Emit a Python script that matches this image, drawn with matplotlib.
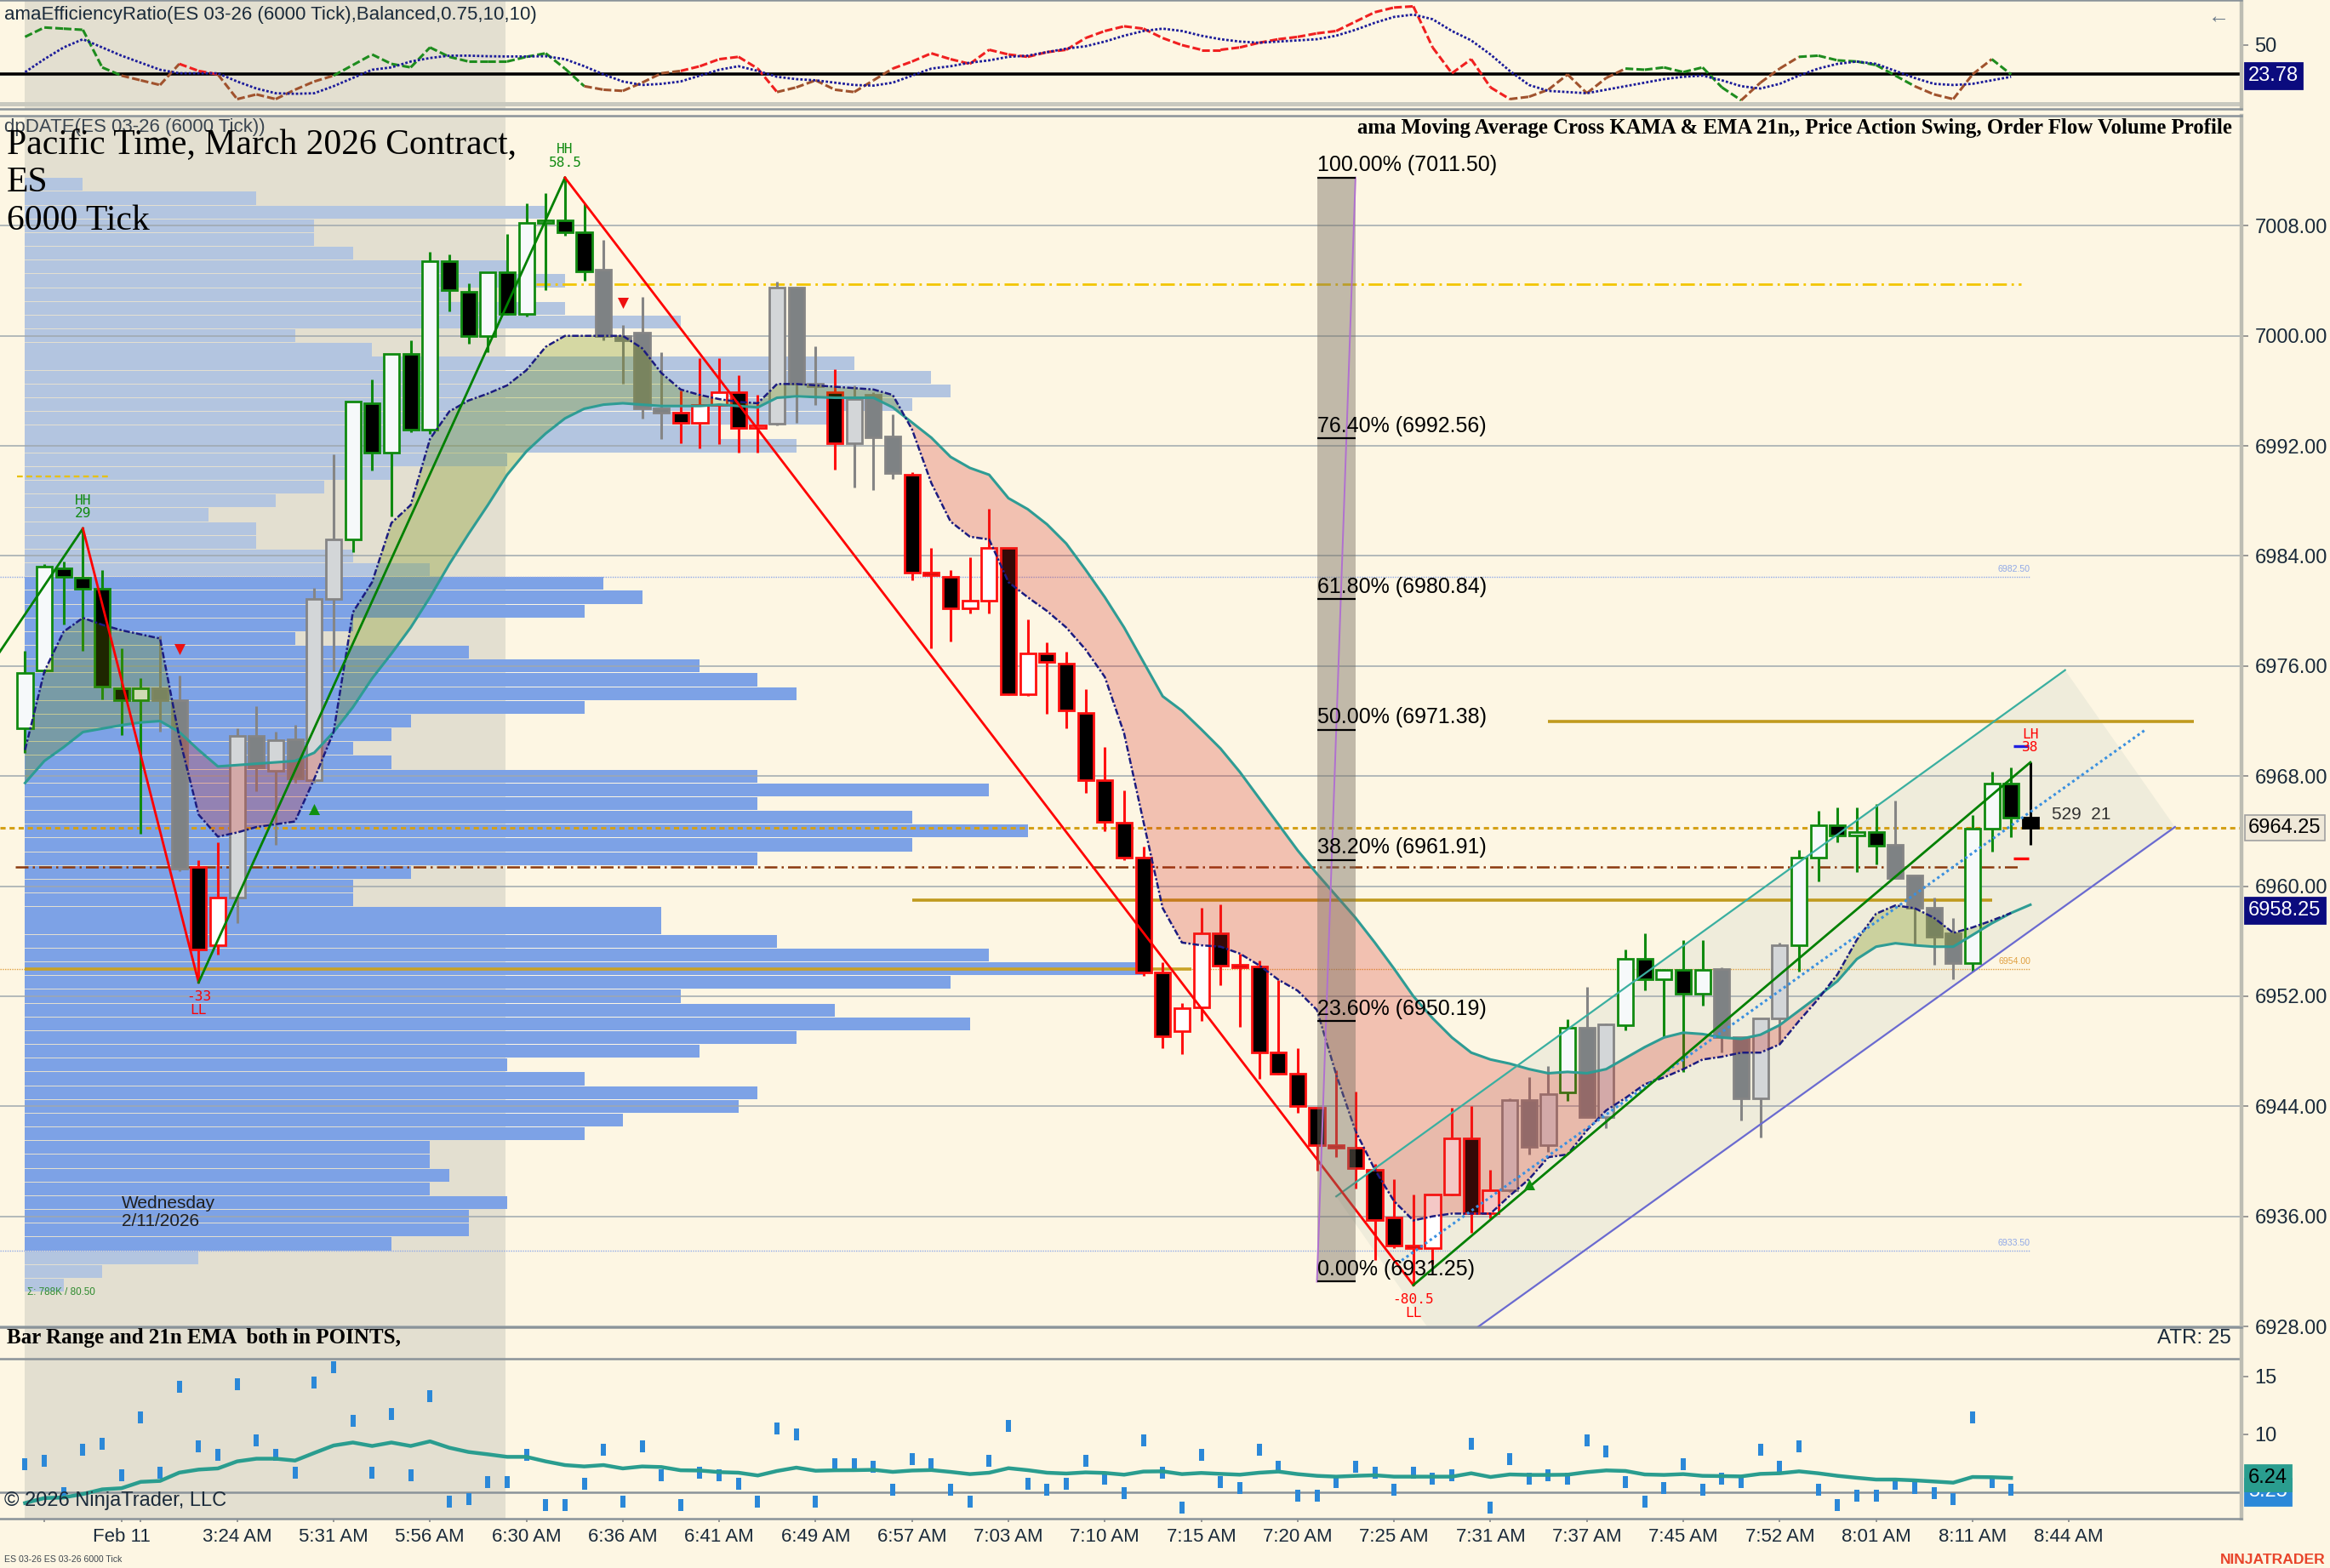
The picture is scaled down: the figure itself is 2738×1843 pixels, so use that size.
import numpy as np
import matplotlib
matplotlib.use("Agg")
import matplotlib.pyplot as plt
from matplotlib.collections import LineCollection
from matplotlib.patches import Polygon, Rectangle

W, H, DPI = 2738, 1843, 200
BG = "#FDF6E3"
SHADE = "#E3DFD0"
GRID = "#9FA8AE"
FONT = "Liberation Sans"
SERIF = "Liberation Serif"

# ---------------- data: candles (bar index 0..104) ----------------
opens = [6971.45, 6975.7, 6983.1, 6982.4, 6981.6, 6974.4, 6973.5, 6974.4, 6973.5, 6961.4,
         6955.7, 6959.2, 6970.9, 6968.4, 6970.7, 6967.7, 6980.9, 6985.2, 6995.1, 6991.5,
         6998.7, 6993.2, 7005.4, 7003.2, 6999.96, 7004.6, 7001.6, 7008.2, 7008.4, 7007.5,
         7004.8, 7000.0, 7000.25, 6994.7, 6994.4, 6993.7, 6994.95, 6995.9, 6993.3, 6993.6,
         7003.5, 6996.5, 6995.9, 6992.2, 6995.7, 6992.7, 6989.9, 6982.8, 6982.5, 6980.2,
         6980.75, 6984.6, 6973.96, 6976.9, 6976.2, 6972.6, 6967.7, 6964.6, 6962.1, 6953.7,
         6949.45, 6951.2, 6956.6, 6954.25, 6954.15, 6947.9, 6946.35, 6943.9, 6941.2, 6941.0,
         6939.4, 6935.9, 6933.9, 6933.7, 6937.6, 6941.65, 6936.2, 6937.9, 6944.45, 6941.2,
         6944.98, 6949.7, 6943.2, 6949.9, 6954.7, 6953.25, 6953.9, 6952.2, 6953.96, 6949.0,
         6944.6, 6950.4, 6955.7, 6962.1, 6964.4, 6963.7, 6963.9, 6963.0, 6960.8, 6958.4,
         6956.6, 6954.4, 6964.15, 6967.45, 6964.97]
highs = [6977.1, 6983.4, 6983.6, 6986.0, 6983.0, 6977.3, 6975.1, 6978.2, 6975.3, 6961.9,
         6963.2, 6971.45, 6973.1, 6971.2, 6971.7, 6981.65, 6991.4, 6995.2, 6996.8, 6998.7,
         6999.7, 7006.1, 7005.95, 7003.8, 7004.65, 7007.4, 7009.6, 7010.4, 7011.5, 7009.6,
         7007.0, 7000.8, 7002.8, 6998.8, 6996.0, 6998.4, 6998.4, 6997.15, 6995.7, 7003.95,
         7003.6, 6999.25, 6997.6, 6996.4, 6995.9, 6994.3, 6990.1, 6984.6, 6983.0, 6983.9,
         6987.4, 6984.6, 6979.4, 6977.7, 6977.05, 6974.3, 6970.1, 6966.95, 6962.9, 6954.5,
         6951.5, 6958.4, 6958.7, 6955.1, 6954.6, 6953.15, 6948.2, 6943.9, 6946.6, 6945.1,
         6939.8, 6938.7, 6937.6, 6937.6, 6943.9, 6944.0, 6939.4, 6944.6, 6946.15, 6946.9,
         6950.3, 6952.7, 6950.0, 6955.4, 6956.6, 6954.0, 6956.1, 6956.1, 6954.07, 6949.0,
         6950.4, 6955.9, 6962.66, 6965.5, 6965.7, 6965.7, 6966.0, 6966.2, 6960.8, 6959.2,
         6957.7, 6965.15, 6968.3, 6968.6, 6969.0]
lows = [6969.7, 6975.5, 6979.0, 6977.1, 6973.6, 6971.0, 6963.8, 6971.2, 6961.1, 6953.0,
        6955.0, 6957.3, 6966.9, 6963.0, 6967.5, 6967.5, 6975.6, 6984.25, 6990.2, 6986.9,
        6993.0, 6992.9, 7001.8, 6999.4, 6998.8, 7001.5, 7001.4, 7003.35, 7007.3, 7004.0,
        6999.7, 6996.5, 6994.0, 6992.5, 6992.2, 6991.8, 6992.1, 6991.5, 6991.5, 6993.5,
        6993.7, 6994.95, 6990.3, 6989.0, 6988.8, 6989.6, 6982.25, 6977.3, 6977.8, 6979.8,
        6979.8, 6973.9, 6973.8, 6972.5, 6971.5, 6966.8, 6964.0, 6961.9, 6953.5, 6948.2,
        6947.8, 6950.2, 6952.8, 6949.8, 6946.0, 6946.3, 6943.5, 6939.3, 6940.3, 6938.0,
        6932.8, 6933.7, 6931.0, 6932.5, 6937.5, 6934.8, 6935.85, 6937.75, 6940.5, 6940.65,
        6944.4, 6943.2, 6942.4, 6949.5, 6952.4, 6949.0, 6946.5, 6951.3, 6947.9, 6942.96,
        6941.7, 6948.6, 6953.8, 6960.35, 6963.2, 6961.05, 6961.6, 6960.5, 6955.7, 6954.3,
        6953.25, 6953.8, 6962.5, 6963.55, 6963.0]
closes = [6975.48, 6983.2, 6982.5, 6981.6, 6974.5, 6973.5, 6974.4, 6973.5, 6961.3, 6955.4,
          6959.2, 6970.9, 6968.6, 6970.6, 6967.85, 6980.9, 6985.2, 6995.2, 6991.5, 6998.7,
          6993.2, 7005.4, 7003.3, 6999.96, 7004.65, 7001.6, 7008.2, 7008.4, 7007.5, 7004.7,
          7000.0, 6999.7, 6994.7, 6994.4, 6993.7, 6994.95, 6995.9, 6993.3, 6993.5, 7003.5,
          6996.5, 6996.4, 6992.2, 6995.4, 6992.6, 6990.0, 6982.8, 6982.6, 6980.2, 6980.75,
          6984.6, 6973.96, 6976.9, 6976.3, 6972.75, 6967.7, 6964.7, 6962.1, 6953.7, 6949.1,
          6951.1, 6956.6, 6954.25, 6954.1, 6947.9, 6946.35, 6944.0, 6941.2, 6941.0, 6939.5,
          6935.75, 6933.9, 6933.7, 6937.6, 6941.65, 6936.2, 6937.9, 6944.45, 6941.07, 6944.9,
          6949.7, 6943.2, 6949.95, 6954.7, 6953.25, 6953.9, 6952.2, 6953.9, 6949.0, 6944.6,
          6950.4, 6955.7, 6962.1, 6964.4, 6963.7, 6963.9, 6962.95, 6960.6, 6958.4, 6956.3,
          6954.4, 6964.15, 6967.45, 6964.97, 6964.25]
# g = up-trend (green), r = down-trend (red), n = neutral (gray), k = live bar
bar_style = list("ggggggg" + "nn" + "rr" + "nnnnnn" + "ggggggggggggg" + "nnnn" + "rrrrr"
                 + "nnn" + "r" + "nnn" + "r" * 31 + "nnn" + "g" + "nn" + "ggggg" + "nnnn"
                 + "ggggg" + "nnnn" + "ggg" + "k")

# KAMA (dash-dot navy) and EMA 21 (teal)
kama = [6969.9, 6975.6, 6978.5, 6979.5, 6979.0, 6978.6, 6978.3, 6978.0, 6970.8, 6965.2,
        6963.6, 6963.9, 6964.3, 6964.5, 6964.7, 6967.8, 6971.2, 6979.9, 6982.1, 6986.4,
        6987.7, 6992.5, 6994.5, 6995.3, 6995.8, 6996.4, 6997.5, 6999.2, 7000.0, 7000.0,
        7000.0, 7000.0, 6999.1, 6997.3, 6996.1, 6995.7, 6995.4, 6995.2, 6995.1, 6996.5,
        6996.5, 6996.4, 6996.3, 6996.2, 6996.1, 6995.7, 6993.2, 6989.3, 6986.5, 6985.4,
        6985.2, 6982.1, 6981.0, 6980.0, 6978.8, 6977.2, 6975.2, 6971.1, 6964.7, 6958.4,
        6955.9, 6955.7, 6955.6, 6955.1, 6954.25, 6953.2, 6952.4, 6951.0, 6946.3, 6942.2,
        6939.4, 6937.1, 6935.7, 6936.0, 6936.2, 6936.2, 6936.2, 6937.5, 6938.7, 6940.3,
        6940.5, 6942.25, 6943.7, 6944.6, 6945.6, 6946.1, 6946.7, 6947.4, 6947.6, 6947.9,
        6947.9, 6948.5, 6950.2, 6951.8, 6953.6, 6956.1, 6958.0, 6958.6, 6958.4, 6957.7,
        6956.6, 6957.0, 6957.5, 6958.05]
ema21 = [6967.5, 6969.1, 6970.1, 6971.2, 6971.45, 6971.7, 6971.9, 6972.0, 6971.2, 6969.9,
         6968.7, 6968.8, 6968.9, 6969.0, 6969.1, 6969.7, 6971.2, 6973.0, 6975.1, 6976.9,
         6978.8, 6981.0, 6983.4, 6985.6, 6987.7, 6989.9, 6991.6, 6992.9, 6994.0, 6994.7,
         6995.0, 6995.1, 6995.0, 6994.9, 6994.9, 6994.9, 6995.0, 6994.9, 6994.8, 6995.5,
         6995.6, 6995.55, 6995.5, 6995.5, 6995.5, 6994.8, 6993.7, 6992.6, 6991.2, 6990.4,
         6989.9, 6988.2, 6987.4, 6986.3, 6984.9, 6983.0, 6981.0, 6978.8, 6976.3, 6973.8,
         6972.75, 6971.4, 6970.0, 6968.3, 6966.4, 6964.5, 6962.6, 6960.9, 6959.3, 6957.7,
         6955.9, 6954.0, 6952.0, 6950.4, 6949.0, 6947.9, 6947.4, 6947.1, 6946.7, 6946.4,
         6946.5, 6946.4, 6946.7, 6947.5, 6948.3, 6949.0, 6949.35, 6949.25, 6949.0, 6948.9,
         6949.2, 6949.9, 6950.95, 6952.0, 6953.1, 6954.7, 6955.6, 6955.85, 6955.7, 6955.6,
         6955.6, 6956.45, 6957.3, 6958.05, 6958.65]
ema_label = 6958.25

# Price action swing points
swing_idx = [-2, 3, 9, 28, 72, 104]
swing_price = [6975.6, 6986.0, 6953.0, 7011.5, 6931.0, 6969.0]
swing_text = ["", "HH\n29", "-33\nLL", "HH\n58.5", "-80.5\nLL", "LH\n38"]

# Order-flow volume profile (1-point rows, relative volume)
profile_price = list(range(7011, 6930, -1))
profile_vol = [3, 12, 27, 15, 15, 17, 25, 28, 22, 28,
               34, 14, 18, 43, 47, 48, 46, 42, 36, 40,
               25, 19, 15.5, 13, 9.5, 12, 12, 17, 21, 30,
               32, 29, 17, 14, 23, 35, 38, 40, 29, 20,
               19, 17, 19, 38, 50, 38, 46, 52, 46, 38,
               20, 17, 17, 33, 33, 39, 50, 58, 48, 34,
               42, 49, 40, 35, 25, 29, 38, 37, 31, 29,
               21, 21, 22, 21, 25, 23, 23, 19, 9, 4, 2]
value_area_high, value_area_low = 6982.5, 6933.5

# Fibonacci retracement
fib_high, fib_low = 7011.50, 6931.25
fib_levels = [1.0, 0.764, 0.618, 0.50, 0.382, 0.236, 0.0]

# Regression channel (bar index / price)
chan_upper_idx, chan_upper = [68.0, 105.8], [6937.45, 6975.7]
chan_lower_idx, chan_lower = [73.6, 111.5], [6926.2, 6964.3]
chan_mid_idx, chan_mid = [71.4, 110.0], [6932.8, 6971.4]

# markers
sell_idx, sell_price = [8, 31], [6977.2, 7002.4]
buy_idx, buy_price = [15, 78], [6965.6, 6938.3]

# Efficiency ratio panel
er = [57, 65, 64, 63, 31, 24, 20, 16, 34, 28, 25, 4, 8, 4, 12, 19, 24, 33, 42, 34,
      31, 48, 40, 36, 36, 36, 40, 43, 30, 15, 12, 11, 18, 26, 28, 32, 38, 40, 30, 10,
      14, 20, 12, 10, 20, 30, 36, 43, 38, 34, 46, 42, 40, 44, 46, 56, 62, 66, 64, 56,
      50, 46, 46, 48, 52, 55, 57, 60, 62, 70, 78, 82, 83, 48, 26, 38, 14, 4, 6, 12,
      25, 9, 22, 30, 29, 31, 27, 31, 14, 3, 18, 30, 40, 41, 37, 36, 33, 24, 15, 8,
      4, 25, 38, 25]
er_signal = [27, 38, 48, 55, 48, 41, 35, 29, 26, 26, 26, 19, 13, 9, 8.5, 9, 15, 22, 29, 31,
             36, 39, 41, 41, 40.5, 40.3, 40.3, 40.5, 38, 32, 25, 19, 16, 17, 19, 24, 29, 32, 28, 23,
             21, 20, 18, 16, 15.5, 18, 24, 30, 32, 35, 37, 40, 41, 44, 47, 49, 53, 58, 62, 64,
             62, 58, 55, 53, 52, 53, 54, 55, 58, 63, 69, 74, 76, 72, 62, 54, 42, 28, 16, 11,
             10, 9, 12, 15, 18, 21, 23, 24, 20, 15, 13, 17, 24, 30, 34, 36, 34, 28, 22, 17,
             16, 17, 20, 23]
er_state = list("gggggg" + "bbb" + "rr" + "bbbbbb" + "g" * 13 + "bbbbb" + "rrrrr" + "bbbbbb"
                + "r" * 32 + "bbbbbb" + "gggggg" + "bbb" + "gggggg" + "bbbb" + "g")
er_last, er_level = 23.78, 25

# Bar range panel
bar_range = [7.45, 7.7, 4.9, 8.7, 9.2, 6.5, 11.5, 6.7, 14.1, 9.0,
             8.2, 14.3, 9.46, 8.2, 6.7, 14.5, 15.8, 11.2, 6.7, 11.74,
             6.5, 13.3, 4.2, 4.4, 5.9, 5.9, 8.2, 3.9, 3.9, 5.7,
             8.7, 4.2, 8.97, 6.5, 3.9, 6.7, 6.5, 5.7, 4.2, 10.5,
             9.97, 4.2, 7.45, 7.45, 7.2, 5.2, 7.9, 7.45, 5.2, 4.2,
             7.7, 10.7, 5.7, 5.2, 5.7, 7.7, 6.2, 4.9, 9.46, 6.7,
             3.7, 8.2, 5.9, 5.4, 8.7, 7.2, 4.7, 4.7, 5.9, 7.2,
             6.7, 5.2, 6.7, 6.2, 6.5, 9.2, 3.7, 7.9, 6.2, 6.5,
             6.2, 9.46, 8.5, 5.9, 4.2, 5.4, 7.45, 5.2, 6.2, 5.9,
             8.7, 7.2, 8.97, 5.2, 3.9, 4.7, 4.7, 5.7, 5.4, 4.9,
             4.4, 11.5, 5.9, 5.25]
range_ema = [4.07, 4.5, 4.55, 4.85, 5.25, 5.35, 5.9, 5.98, 6.7, 6.96,
             7.06, 7.67, 7.9, 7.9, 7.74, 8.4, 9.04, 9.3, 9.0, 9.3,
             9.0, 9.4, 8.85, 8.48, 8.28, 8.06, 8.06, 7.67, 7.35, 7.23,
             7.35, 7.06, 7.23, 7.18, 6.9, 6.88, 6.74, 6.69, 6.45, 6.84,
             7.13, 6.86, 6.9, 6.91, 6.94, 6.76, 6.88, 6.92, 6.76, 6.57,
             6.69, 7.08, 6.91, 6.69, 6.62, 6.72, 6.67, 6.52, 6.79, 6.81,
             6.57, 6.67, 6.59, 6.52, 6.69, 6.79, 6.57, 6.42, 6.35, 6.42,
             6.47, 6.35, 6.35, 6.35, 6.35, 6.64, 6.32, 6.54, 6.5, 6.5,
             6.52, 6.74, 6.89, 6.84, 6.54, 6.5, 6.57, 6.42, 6.4, 6.37,
             6.59, 6.64, 6.81, 6.64, 6.42, 6.25, 6.1, 6.1, 6.03, 5.93,
             5.83, 6.32, 6.3, 6.24]

# time axis
tick_idx = [5, 11, 16, 21, 26, 31, 36, 41, 46, 51, 56, 61, 66, 71, 76, 81, 86, 91, 96, 101, 106]
tick_lbl = ["Feb 11", "3:24 AM", "5:31 AM", "5:56 AM", "6:30 AM", "6:36 AM", "6:41 AM",
            "6:49 AM", "6:57 AM", "7:03 AM", "7:10 AM", "7:15 AM", "7:20 AM", "7:25 AM",
            "7:31 AM", "7:37 AM", "7:45 AM", "7:52 AM", "8:01 AM", "8:11 AM", "8:44 AM"]
minor_tick_idx = [1, 6]
session_start, session_end = 0, 24.9
price_ticks = [7008, 7000, 6992, 6984, 6976, 6968, 6960, 6952, 6944, 6936, 6928]

# ---------------- layout ----------------
XLIM = (-1.3, 114.95)
plt.rcParams["font.family"] = [FONT, "DejaVu Sans"]
fig = plt.figure(figsize=(W / DPI, H / DPI), dpi=DPI)
fig.patch.set_facecolor(BG)
RIGHT = 2634


def panel(top, bottom):
    a = fig.add_axes([0, 1 - bottom / H, RIGHT / W, (bottom - top) / H])
    a.set_facecolor(BG)
    a.set_xlim(*XLIM)
    a.spines["left"].set_visible(False)
    for s in ("top", "bottom"):
        a.spines[s].set_color("#8A9399")
        a.spines[s].set_linewidth(0.9)
    a.spines["right"].set_color("#BDBDB3")
    a.spines["right"].set_linewidth(1.6)
    a.yaxis.tick_right()
    a.tick_params(axis="y", direction="out", length=3, width=0.6, color="#888888",
                  pad=2.5, labelsize=8.5, labelcolor="#1A2A3A")
    a.tick_params(axis="x", bottom=False, labelbottom=False)
    a.axvspan(session_start, session_end, color=SHADE, lw=0, zorder=0)
    return a


ax_top = panel(0, 128)
ax = panel(136, 1560)
ax_bot = panel(1560, 1785)

# ---------------- top: efficiency ratio ----------------
ax_top.set_ylim(-4.35, 88.4)
ax_top.set_yticks([50])
ax_top.set_yticklabels(["50"])
ax_top.axhline(0, color="#C9C9BF", lw=1.8, zorder=1)
ax_top.axhline(er_level, color="black", lw=1.3, zorder=2)
er_cols = {"g": "#1E8C1E", "b": "#A0522D", "r": "#F02020"}
xs = np.arange(len(er))
segs = [[(xs[i - 1], er[i - 1]), (xs[i], er[i])] for i in range(1, len(er))]
cols = [er_cols[er_state[i]] for i in range(1, len(er))]
ax_top.add_collection(LineCollection(segs, colors=cols, linewidths=1.1,
                                     linestyles=(0, (3, 1.2)), zorder=3))
ax_top.plot(np.arange(len(er_signal)), er_signal, color="#1C1C9A", lw=1.0,
            ls=(0, (1, 0.8)), zorder=4)
ax_top.text(1.003, er_last, f"{er_last:.2f}", transform=ax_top.get_yaxis_transform(),
            ha="left", va="center", fontsize=8.5, color="white", clip_on=False,
            bbox=dict(boxstyle="square,pad=0.18", fc="#0B0B7E", ec="#0B0B7E"))
fig.text(5 / W, 1 - 17 / H, "amaEfficiencyRatio(ES 03-26 (6000 Tick),Balanced,0.75,10,10)",
         fontsize=8, color="#1A2A3A", va="center", ha="left")
fig.text(2620 / W, 1 - 20 / H, "\u2190", fontsize=9, color="#6A7A8A", ha="right", va="center")

# ---------------- main price panel ----------------
ax.set_ylim(6927.94, 7016.0)
ax.set_yticks(price_ticks)
ax.set_yticklabels([f"{p:.2f}" for p in price_ticks])
for p in price_ticks:
    ax.axhline(p, color=GRID, lw=0.55, zorder=1.6)

# volume profile (width in bar units = relative volume)
pp = np.array(profile_price, float)
pv = np.array(profile_vol, float)
pcol = ["#7DA2E6" if value_area_low < p < value_area_high else "#B3C5E0" for p in pp]
ax.barh(pp, pv, left=0, height=0.94, color=pcol, lw=0, zorder=1)

# regression channel
poly = Polygon([(chan_upper_idx[0], chan_upper[0]), (chan_upper_idx[1], chan_upper[1]),
                (chan_lower_idx[1], chan_lower[1]), (chan_lower_idx[0], chan_lower[0])],
               closed=True, fc=(0.80, 0.83, 0.78), alpha=0.28, lw=0, zorder=1.2)
ax.add_patch(poly)
ax.plot(chan_upper_idx, chan_upper, color="#3AAFA0", lw=0.8, zorder=5)
ax.plot(chan_lower_idx, chan_lower, color="#6A6AD0", lw=0.8, zorder=5)
ax.plot(chan_mid_idx, chan_mid, color="#3A90E0", lw=1.1, ls=(0, (1, 1.2)), zorder=5)

# horizontal levels
last_close = closes[-1]
ax.axhline(last_close, color="#D4A017", lw=1.1, ls=(0, (2, 1.5)), zorder=2)
ax.hlines(6961.4, -0.5, 103.5, color="#8B3A0F", lw=0.9, ls=(0, (6, 2, 1, 2)), zorder=2)
ax.hlines(7003.75, 26.5, 103.5, color="#F2C500", lw=1.0, ls=(0, (6, 2, 1, 2)), zorder=2)
ax.hlines(6989.8, -0.4, 4.3, color="#E8C000", lw=0.8, ls=(0, (3, 2)), zorder=2)
ax.hlines(6953.95, 0, 60.5, color="#C9A227", lw=1.3, zorder=2)
ax.hlines(6959.0, 46, 102, color="#C09A1E", lw=1.3, zorder=2)
ax.hlines(6971.95, 79, 112.5, color="#C09A1E", lw=1.3, zorder=2)
for lvl, c, lab in [(6982.5, "#8FA8E8", "6982.50"), (6933.5, "#8FA8E8", "6933.50"),
                    (6954.0, "#E0A040", "6954.00")]:
    ax.hlines(lvl, -1.3, 104.0, color=c, lw=0.5, ls=(0, (1, 1)), zorder=1.7)
    ax.text(104.0, lvl + 0.25, lab, fontsize=3.8, color=c, ha="right", va="bottom", zorder=7)

# candles
up_fill = {"g": "#F6F9FA", "r": "white", "n": "#D3D6D8", "k": "black"}
dn_fill = {"g": "black", "r": "black", "n": "#7E8284", "k": "black"}
edge = {"g": "#108A10", "r": "#FF1010", "n": "#858585", "k": "black"}
BODY_W = 0.8
for i, (o, h, l, c) in enumerate(zip(opens, highs, lows, closes)):
    st = bar_style[i]
    ec = edge[st]
    ax.vlines(i, l, h, color=ec, lw=1.1, zorder=3)
    lo, hi = min(o, c), max(o, c)
    if hi - lo < 0.2:
        lo, hi = (lo + hi) / 2 - 0.1, (lo + hi) / 2 + 0.1
    fc = up_fill[st] if c >= o else dn_fill[st]
    ax.add_patch(Rectangle((i - BODY_W / 2, lo), BODY_W, hi - lo, fc=fc, ec=ec, lw=1.0,
                           zorder=3.1))

# KAMA / EMA cloud (drawn over candles)
xk = np.arange(len(kama))
k = np.array(kama)
e = np.array(ema21[:len(kama)])
ax.fill_between(xk, k, e, where=k >= e, interpolate=True, color=(0.43, 0.55, 0.0),
                alpha=0.28, lw=0, zorder=4)
ax.fill_between(xk, k, e, where=k < e, interpolate=True, color=(0.835, 0.15, 0.11),
                alpha=0.25, lw=0, zorder=4)
ax.plot(np.arange(len(ema21)), ema21, color="#2E9C94", lw=1.1, zorder=4.5)
ax.plot(xk, kama, color="#1C1C80", lw=0.9, ls=(0, (3, 1, 1, 1)), zorder=4.6)

# swing zigzag
for j in range(1, len(swing_idx)):
    col = "#008000" if swing_price[j] > swing_price[j - 1] else "#FF0000"
    ax.plot(swing_idx[j - 1:j + 1], swing_price[j - 1:j + 1], color=col, lw=1.0, zorder=5)
for j in range(1, len(swing_idx)):
    txt = swing_text[j]
    is_high = swing_price[j] > swing_price[j - 1]
    col = "#108A10" if txt.startswith("HH") else "#FF0000"
    ax.text(swing_idx[j], swing_price[j] + (0.6 if is_high else -0.6), txt,
            ha="center", va="bottom" if is_high else "top", fontsize=5.8,
            family="DejaVu Sans Mono", color=col, linespacing=1.05, zorder=7)
ax.hlines(6970.2, 103.1, 103.9, color="#2020E0", lw=1.2, zorder=6)
ax.hlines(6962.0, 103.1, 103.9, color="#FF0000", lw=1.2, zorder=6)

# triangles
ax.scatter(sell_idx, sell_price, marker="v", s=22, color="#EE1010", lw=0, zorder=6)
ax.scatter(buy_idx, buy_price, marker="^", s=22, color="#109010", lw=0, zorder=6)

# Fibonacci
ax.add_patch(Rectangle((67, fib_low), 2, fib_high - fib_low, fc=(0.47, 0.44, 0.39),
                       alpha=0.45, lw=0, zorder=5))
ax.plot([67, 69], [fib_low, fib_high], color="#B070D0", lw=0.7, zorder=5.5)
for f in fib_levels:
    lvl = fib_low + f * (fib_high - fib_low)
    ax.hlines(lvl, 67, 69, color="black", lw=0.8, zorder=6)
    ax.text(67, lvl + 0.15, f"{f * 100:.2f}% ({lvl:.2f})", fontsize=9, color="black",
            ha="left", va="bottom", zorder=7)

# texts
ax.text(105.1, 6965.2, "529  21", fontsize=7.5, color="#303030", ha="left", va="center", zorder=7)
ax.text(5.0, 6936.3, "Wednesday\n2/11/2026", fontsize=7.5, color="#202020", ha="left",
        va="center", linespacing=1.1, zorder=7)
ax.text(0.1, 6930.5, "\u03a3: 788K / 80.50", fontsize=4.2, color="#2E8B2E", ha="left",
        va="center", zorder=7)
fig.text(5 / W, 1 - 149 / H, "dpDATE(ES 03-26 (6000 Tick))", fontsize=8, color="#3A4550",
         ha="left", va="center")
fig.text(8 / W, 1 - 151 / H, "Pacific Time, March 2026 Contract,\nES\n6000 Tick",
         family=SERIF, fontsize=15, color="black", ha="left", va="top", linespacing=1.22)
fig.text(2623 / W, 1 - 151 / H,
         "ama Moving Average Cross KAMA & EMA 21n,, Price Action Swing, Order Flow Volume Profile",
         family=SERIF, fontweight="bold", fontsize=8.9, color="black", ha="right", va="center")

# right-side value boxes
yt = ax.get_yaxis_transform()
ax.text(1.003, last_close, f"{last_close:.2f}", transform=yt, ha="left", va="center",
        fontsize=8.5, color="black", clip_on=False, zorder=8,
        bbox=dict(boxstyle="square,pad=0.18", fc="#EFE8D8", ec="#A0A0A0", lw=0.6))
ax.text(1.003, ema_label, f"{ema_label:.2f}", transform=yt, ha="left", va="center",
        fontsize=8.5, color="white", clip_on=False, zorder=8,
        bbox=dict(boxstyle="square,pad=0.18", fc="#0B0B7E", ec="#0B0B7E"))

# ---------------- bottom: bar range ----------------
ax_bot.set_ylim(2.72, 19.26)
ax_bot.set_yticks([15, 10])
ax_bot.set_yticklabels(["15", "10"])
ax_bot.axhline(16.55, color="#8A9399", lw=0.9, zorder=1)
ax_bot.axhline(5, color="#8A9399", lw=0.9, zorder=1)
rect_marker = [(-0.45, -1), (0.45, -1), (0.45, 1), (-0.45, 1)]
ax_bot.scatter(np.arange(len(bar_range)), bar_range, marker=rect_marker, s=26,
               color="#2B88D8", lw=0, zorder=3)
ax_bot.plot(np.arange(len(range_ema)), range_ema, color="#2A9D8F", lw=1.6, zorder=4)
ybt = ax_bot.get_yaxis_transform()
ax_bot.text(1.003, bar_range[-1] - 0.2, f"{bar_range[-1]:.2f}", transform=ybt, ha="left",
            va="center", fontsize=8.5, color="white", clip_on=False, zorder=8,
            bbox=dict(boxstyle="square,pad=0.18", fc="#2B88D8", ec="#2B88D8"))
ax_bot.text(1.003, range_ema[-1], f"{range_ema[-1]:.2f}", transform=ybt, ha="left",
            va="center", fontsize=8.5, color="black", clip_on=False, zorder=9,
            bbox=dict(boxstyle="square,pad=0.18", fc="#2A9D8F", ec="#2A9D8F"))
ax_bot.set_xticks(tick_idx)
ax_bot.set_xticklabels(tick_lbl)
ax_bot.set_xticks(minor_tick_idx, minor=True)
ax_bot.tick_params(axis="x", which="both", bottom=True, labelbottom=True, direction="out",
                   length=1.6, width=0.6, color="#888888", labelsize=8, pad=2.2,
                   labelcolor="#1A2A3A")
fig.text(8 / W, 1 - 1573 / H, "Bar Range and 21n EMA  both in POINTS,", family=SERIF,
         fontweight="bold", fontsize=9, color="black", ha="left", va="center")
fig.text(2622 / W, 1 - 1573 / H, "ATR: 25", fontsize=8.7, color="#1A2A3A", ha="right",
         va="center")
fig.text(5 / W, 1 - 1764 / H, "\u00a9 2026 NinjaTrader, LLC", fontsize=8.5, color="#1A2A3A",
         ha="left", va="center")
fig.text(5 / W, 1 - 1833 / H, "ES 03-26 ES 03-26 6000 Tick", fontsize=3.8, color="#404850",
         ha="left", va="center")
fig.text(2733 / W, 1 - 1833 / H, "NINJATRADER", fontsize=6.3, fontweight="bold",
         color="#E8442A", ha="right", va="center")

fig.savefig("out.png", dpi=DPI, facecolor=BG)
